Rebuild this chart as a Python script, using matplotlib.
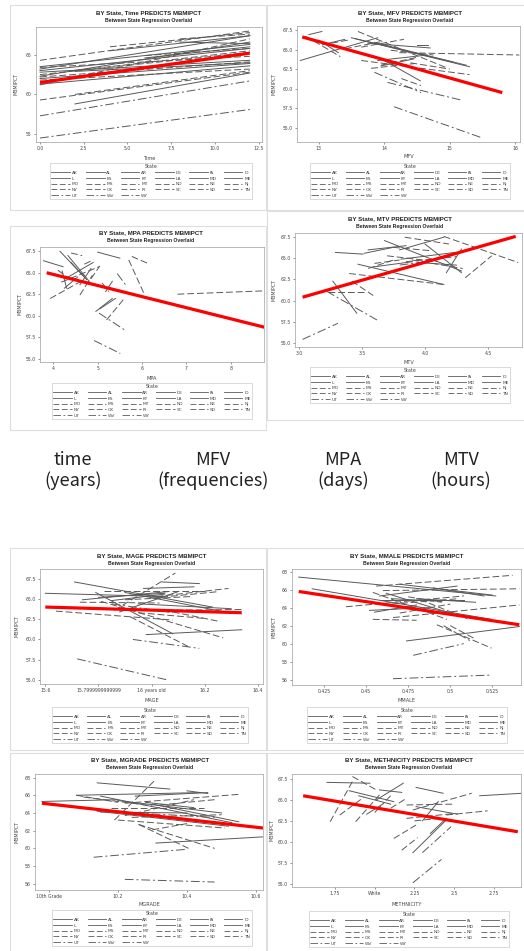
import numpy as np
import matplotlib.pyplot as plt
from matplotlib.lines import Line2D
from matplotlib.patches import Rectangle

W, H = 524, 951

states = ['AK', 'AL', 'AR', 'DE', 'IA', 'ID', 'IL', 'KS', 'KY', 'LA', 'MD', 'ME',
          'MO', 'MS', 'MT', 'ND', 'NE', 'NJ', 'NY', 'OK', 'RI', 'SC', 'SD', 'TN',
          'UT', 'WV', 'WY']
state_style = ['solid'] * 12 + ['dashed'] * 12 + ['dashdot'] * 3

# per state fitted segments: (x start, x end, y start, y end)
seg_time = [(0, 12, 63.2, 67.4), (0, 12, 63.5, 66.3), (0, 12, 62.8, 64.3), (2, 12, 58.8, 62.7),
            (4, 12, 65.5, 67.4), (0, 12, 62.3, 66.6), (0, 12, 61.3, 63.6), (6, 12, 64.6, 66.0),
            (0, 12, 63.0, 65.8), (8, 12, 66.6, 66.4), (2, 12, 62.9, 64.0), (0, 12, 62.0, 63.9),
            (0, 12, 64.3, 68.0), (0, 12, 59.3, 62.8), (4, 12, 66.0, 67.8), (0, 12, 62.5, 65.3),
            (0, 12, 61.2, 67.0), (2, 12, 63.0, 65.5), (0, 12, 63.4, 64.8), (6, 12, 64.9, 65.8),
            (8, 12, 67.0, 67.6), (0, 12, 61.8, 63.2), (2, 12, 60.0, 63.0), (0, 12, 62.2, 64.1),
            (0, 12, 57.3, 61.7), (0, 12, 54.5, 58.1), (4, 12, 62.8, 65.3)]
seg_mfv = [(12.72, 13.90, 63.6, 66.5), (12.85, 13.05, 66.9, 67.3), (13.50, 15.30, 66.5, 62.8),
           (13.55, 15.05, 66.4, 63.4), (14.50, 14.66, 65.6, 65.6), (13.15, 13.40, 65.8, 66.3),
           (13.90, 14.66, 63.6, 64.3), (13.00, 13.30, 66.2, 64.6), (13.75, 14.70, 65.8, 65.2),
           (13.85, 15.25, 65.9, 63.0), (13.95, 14.45, 62.9, 63.8), (14.00, 14.55, 63.6, 61.0),
           (12.80, 13.33, 66.7, 64.1), (13.60, 14.97, 67.3, 62.6), (13.65, 14.30, 65.3, 66.3),
           (14.23, 16.06, 64.6, 64.3), (13.65, 15.30, 63.6, 61.8), (13.80, 14.46, 62.6, 63.2),
           (14.26, 14.56, 61.3, 60.4), (13.40, 13.95, 65.1, 66.0), (14.10, 14.75, 64.9, 64.3),
           (13.95, 14.50, 63.0, 64.0), (14.40, 15.00, 63.3, 62.5), (13.05, 13.45, 65.6, 66.2),
           (13.85, 14.56, 62.1, 59.5), (14.05, 15.20, 60.8, 58.5), (14.15, 15.50, 57.7, 53.7)]
seg_mpa = [(3.78, 4.22, 66.4, 65.7), (4.15, 4.70, 67.5, 64.5), (4.33, 4.81, 67.0, 64.0),
           (5.00, 5.50, 67.4, 66.7), (4.96, 5.33, 60.5, 62.0), (4.20, 4.30, 65.2, 63.2),
           (5.18, 5.33, 62.8, 64.0), (4.40, 4.75, 66.2, 64.2), (4.25, 4.55, 63.2, 64.5),
           (4.30, 4.90, 64.4, 66.2), (5.05, 5.40, 60.8, 62.0), (4.60, 4.85, 63.6, 65.5),
           (5.77, 6.17, 66.9, 66.0), (5.70, 6.06, 66.5, 62.4), (6.80, 8.80, 62.5, 62.9),
           (3.93, 4.66, 62.0, 64.1), (4.18, 5.03, 63.9, 65.7), (4.60, 4.88, 62.4, 64.7),
           (4.40, 4.65, 67.3, 67.0), (4.85, 5.05, 64.3, 65.8), (5.20, 5.60, 59.5, 62.0),
           (4.10, 4.45, 65.3, 64.0), (4.70, 4.90, 66.0, 66.5), (5.10, 5.25, 63.8, 62.8),
           (4.92, 5.51, 57.1, 55.6), (5.03, 5.62, 60.3, 58.3), (5.44, 5.66, 64.9, 63.4)]
seg_mtv = [(3.27, 3.46, 62.3, 58.5), (3.29, 3.51, 65.7, 65.5), (3.52, 3.75, 65.6, 66.3),
           (3.68, 4.29, 67.1, 63.5), (3.80, 4.15, 66.0, 67.5), (4.00, 4.29, 66.7, 63.3),
           (3.47, 4.15, 64.3, 61.9), (4.17, 4.29, 63.3, 66.1), (3.81, 4.24, 64.9, 65.7),
           (3.60, 3.90, 64.0, 64.6), (3.95, 4.25, 64.5, 64.2), (3.55, 3.85, 66.0, 66.5),
           (3.84, 4.19, 67.5, 66.7), (4.15, 4.74, 67.6, 64.5), (4.32, 4.53, 62.7, 65.3),
           (3.23, 3.52, 61.0, 61.0), (3.42, 3.59, 62.3, 60.6), (3.55, 3.75, 63.8, 64.8),
           (3.40, 4.15, 63.2, 61.9), (3.70, 4.10, 65.3, 64.6), (3.90, 4.30, 64.8, 63.8),
           (3.60, 3.80, 64.4, 64.8), (3.75, 4.05, 66.3, 65.9), (3.85, 4.25, 64.6, 65.2),
           (3.03, 3.31, 55.4, 57.3), (3.22, 3.62, 61.1, 57.7), (3.80, 4.00, 64.2, 64.6)]
seg_mage = [(15.60, 16.05, 65.7, 65.3), (15.71, 16.23, 67.1, 64.0), (15.74, 16.06, 64.9, 65.9),
            (16.04, 16.18, 67.1, 66.9), (15.98, 16.34, 60.6, 61.2), (15.97, 16.16, 66.3, 66.5),
            (15.79, 16.08, 65.8, 60.7), (15.85, 16.05, 64.8, 65.6), (15.90, 16.26, 65.8, 63.5),
            (15.88, 16.10, 63.4, 65.9), (15.80, 16.05, 65.2, 65.7), (15.95, 16.30, 64.4, 63.8),
            (15.86, 16.09, 63.6, 68.2), (15.82, 16.20, 66.0, 66.0), (16.02, 16.29, 65.3, 66.3),
            (15.64, 16.08, 63.5, 62.4), (15.73, 16.03, 64.6, 64.5), (15.81, 16.27, 64.7, 60.2),
            (16.08, 16.26, 63.4, 62.2), (16.02, 16.34, 63.6, 63.7), (15.92, 16.14, 62.8, 59.1),
            (15.95, 16.20, 63.3, 62.6), (15.90, 16.15, 64.9, 65.3), (16.00, 16.25, 65.1, 65.9),
            (15.72, 16.06, 57.6, 55.0), (15.93, 16.18, 60.0, 58.9), (15.85, 16.08, 64.4, 63.3)]
seg_mmale = [(0.410, 0.527, 67.4, 65.3), (0.418, 0.5245, 66.1, 62.7), (0.458, 0.504, 65.3, 66.4),
             (0.474, 0.541, 60.3, 61.9), (0.452, 0.487, 63.7, 64.0), (0.458, 0.508, 64.8, 64.8),
             (0.470, 0.525, 66.6, 65.4), (0.465, 0.495, 65.0, 64.7), (0.455, 0.480, 63.5, 64.3),
             (0.490, 0.520, 66.2, 65.3), (0.462, 0.500, 65.6, 63.4), (0.480, 0.515, 65.0, 64.6),
             (0.456, 0.537, 66.4, 67.6), (0.460, 0.541, 65.9, 66.1), (0.438, 0.508, 64.1, 65.3),
             (0.454, 0.480, 62.7, 62.6), (0.466, 0.541, 62.9, 64.3), (0.454, 0.498, 65.7, 62.7),
             (0.492, 0.5245, 62.1, 59.5), (0.470, 0.500, 63.4, 64.4), (0.475, 0.495, 65.2, 64.6),
             (0.482, 0.510, 64.9, 62.8), (0.500, 0.515, 62.0, 60.5), (0.465, 0.505, 64.4, 65.0),
             (0.466, 0.524, 56.1, 56.5), (0.478, 0.508, 58.7, 60.0), (0.496, 0.512, 62.0, 60.3)]
seg_mgrade = [(9.98, 10.20, 65.3, 65.5), (10.14, 10.35, 67.4, 66.7), (10.08, 10.44, 66.0, 66.3),
              (10.14, 10.52, 64.2, 62.5), (10.15, 10.53, 65.9, 62.9), (10.25, 10.46, 65.9, 66.3),
              (10.31, 10.62, 60.6, 61.3), (10.20, 10.50, 65.4, 64.0), (10.30, 10.55, 65.0, 63.0),
              (10.40, 10.46, 66.5, 66.2), (10.15, 10.40, 64.1, 64.0), (10.28, 10.42, 65.2, 64.6),
              (10.19, 10.31, 63.2, 67.8), (10.26, 10.48, 62.7, 60.0), (10.22, 10.42, 63.7, 65.5),
              (10.22, 10.55, 65.1, 66.1), (10.20, 10.51, 63.2, 62.3), (10.18, 10.45, 64.6, 64.6),
              (10.26, 10.41, 62.7, 59.9), (10.08, 10.20, 66.0, 65.2), (10.30, 10.40, 62.1, 62.8),
              (10.24, 10.50, 63.5, 63.8), (10.10, 10.30, 65.8, 64.8), (10.32, 10.48, 64.9, 65.5),
              (10.13, 10.40, 59.0, 59.9), (10.22, 10.48, 56.5, 56.2), (10.25, 10.48, 64.0, 63.5)]
seg_meth = [(1.70, 1.97, 67.1, 67.0), (1.84, 2.12, 66.1, 64.8), (2.03, 2.17, 66.2, 65.9),
            (2.26, 2.43, 66.5, 65.8), (2.26, 2.52, 64.2, 63.3), (2.66, 2.93, 65.5, 65.8),
            (2.24, 2.45, 58.7, 62.6), (2.01, 2.18, 65.0, 67.0), (1.90, 2.10, 65.5, 64.5),
            (2.30, 2.40, 62.5, 64.8), (1.95, 2.05, 63.3, 64.5), (2.35, 2.45, 61.0, 62.8),
            (1.72, 1.86, 62.4, 67.2), (1.88, 2.03, 62.4, 65.6), (1.86, 2.01, 67.8, 66.2),
            (2.20, 2.51, 62.8, 63.4), (2.24, 2.61, 63.8, 65.8), (2.45, 2.71, 63.2, 63.7),
            (2.12, 2.26, 60.4, 62.0), (2.20, 2.50, 64.4, 64.5), (1.78, 1.93, 63.2, 65.3),
            (2.10, 2.20, 64.0, 65.2), (2.25, 2.40, 62.5, 62.8), (2.17, 2.27, 59.0, 60.5),
            (2.24, 2.42, 55.1, 57.9), (2.30, 2.48, 58.7, 61.8), (2.00, 2.10, 63.5, 65.5)]

# overall (between state) regression lines
red_time = ([0, 12], [61.5, 65.2])
red_mfv = ([12.75, 15.8], [66.6, 59.5])
red_mpa = ([3.85, 8.8], [65.0, 58.6])
red_mtv = ([3.03, 4.72], [60.4, 67.6])
red_mage = ([15.6, 16.34], [64.0, 63.3])
red_mmale = ([0.41, 0.541], [65.8, 62.1])
red_mgrade = ([9.98, 10.62], [65.1, 62.3])
red_meth = ([1.55, 2.9], [65.5, 61.2])

ticks_time = [0, 2.5, 5, 7.5, 10, 12.5]
labels_time = ['0.0', '2.5', '5.0', '7.5', '10.0', '12.5']
ticks_mfv = [13, 14, 15, 16]
labels_mfv = ['13', '14', '15', '16']
ticks_mpa = [4, 5, 6, 7, 8]
labels_mpa = ['4', '5', '6', '7', '8']
ticks_mtv = [3.0, 3.5, 4.0, 4.5]
labels_mtv = ['3.0', '3.5', '4.0', '4.5']
ticks_mage = [15.6, 15.8, 16.0, 16.2, 16.4]
labels_mage = ['15.6', '15.7999999999999', '16 years old', '16.2', '16.4']
ticks_mmale = [0.425, 0.45, 0.475, 0.5, 0.525]
labels_mmale = ['0.425', '0.45', '0.475', '0.5', '0.525']
ticks_mgrade = [10.0, 10.2, 10.4, 10.6]
labels_mgrade = ['10th Grade', '10.2', '10.4', '10.6']
ticks_meth = [1.75, 2.0, 2.25, 2.5, 2.75]
labels_meth = ['1.75', 'White', '2.25', '2.5', '2.75']
yt_half = [55.0, 57.5, 60.0, 62.5, 65.0, 67.5]
yt_even = [56, 58, 60, 62, 64, 66, 68]

units_names = ['time', 'MFV', 'MPA', 'MTV']
units_desc = ['(years)', '(frequencies)', '(days)', '(hours)']

GRAY = '#595959'
LS = {'solid': '-', 'dashed': (0, (7, 3)), 'dashdot': (0, (9, 3, 2, 3))}

fig = plt.figure(figsize=(W / 100, H / 100), dpi=100)
fig.patch.set_facecolor('white')


def fig_rect(x0, y0, x1, y1):
    return [x0 / W, 1 - y1 / H, (x1 - x0) / W, (y1 - y0) / H]


# light panel frames of the screenshots
for (x0, y0, x1, y1) in [(10, 5, 266, 210), (267, 5, 526, 210), (10, 226, 266, 430),
                         (267, 211, 526, 420), (10, 548, 266, 750), (267, 548, 526, 750),
                         (10, 753, 266, 960), (267, 753, 526, 960)]:
    fig.add_artist(Rectangle((x0 / W, 1 - y1 / H), (x1 - x0) / W, (y1 - y0) / H,
                             transform=fig.transFigure, fill=False,
                             edgecolor='#dedede', lw=0.8))


def panel(var, segs, red, box, xlim, ylim, xt, xtl, yt, tcx, ty, ylx, xly, leg):
    ax = fig.add_axes(fig_rect(*box))
    for s, st, (x0, x1, y0, y1) in zip(states, state_style, segs):
        ax.plot([x0, x1], [y0, y1], color=GRAY, lw=0.7, ls=LS[st])
    ax.plot(red[0], red[1], color='#ff0000', lw=2.3, zorder=5, solid_capstyle='butt')
    ax.set_xlim(xlim)
    ax.set_ylim(ylim)
    ax.set_xticks(xt)
    ax.set_xticklabels(xtl)
    ax.set_yticks(yt)
    ax.set_yticklabels([('%.1f' % v) if isinstance(v, float) else str(v) for v in yt])
    ax.tick_params(labelsize=3.3, length=1.5, width=0.4, pad=1.5,
                   colors='#444444')
    for sp in ax.spines.values():
        sp.set_color('#a0a0a0')
        sp.set_linewidth(0.5)
    fig.text(tcx / W, 1 - ty / H, 'BY State, %s PREDICTS MBMIPCT' % var,
             ha='center', va='center', fontsize=4.4, fontweight='bold',
             family='Liberation Sans', color='#222222')
    fig.text(tcx / W, 1 - (ty + 7.5) / H, 'Between State Regression Overlaid',
             ha='center', va='center', fontsize=3.7, fontweight='bold',
             family='Liberation Sans', color='#222222')
    fig.text(ylx / W, 1 - (box[1] + box[3]) / 2 / H, 'MBMIPCT', rotation=90,
             ha='center', va='center', fontsize=3.4, color='#444444')
    fig.text((box[0] + box[2]) / 2 / W, 1 - xly / H, var, ha='center', va='center',
             fontsize=3.6, color='#444444')

    handles = [Line2D([], [], color=GRAY, lw=0.6, ls=LS[st]) for st in state_style]
    order = []
    for c in range(6):
        order += [c + 6 * r for r in range(5) if c + 6 * r < len(states)]
    x0, ytop, x1 = leg
    lg = fig.legend([handles[i] for i in order], [states[i] for i in order],
                    loc='upper left', ncol=6, mode='expand',
                    bbox_to_anchor=(x0 / W, 1 - ytop / H, (x1 - x0) / W, 0),
                    bbox_transform=fig.transFigure, borderaxespad=0,
                    fontsize=3.2, title='State', title_fontsize=3.4,
                    handlelength=4.2, handletextpad=0.4, labelspacing=0.35,
                    columnspacing=0.6, borderpad=0.3, fancybox=False, frameon=True)
    lg.get_frame().set_edgecolor('#c8c8c8')
    lg.get_frame().set_linewidth(0.6)
    for t in lg.get_texts():
        t.set_color('#444444')
    lg.get_title().set_color('#444444')
    return ax


panel('Time', seg_time, red_time, (36, 27, 262, 142), (-0.23, 12.7), (54.0, 68.5),
      ticks_time, labels_time, [55, 60, 65], 149, 13, 16, 158, (50, 163, 252))
panel('MFV', seg_mfv, red_mfv, (297, 26, 520, 142), (12.67, 16.07), (53.2, 68.0),
      ticks_mfv, labels_mfv, yt_half, 410, 13, 274, 157, (310, 163, 510))
panel('MPA', seg_mpa, red_mpa, (40, 247, 264, 362), (3.7, 8.75), (54.6, 68.0),
      ticks_mpa, labels_mpa, yt_half, 151, 233, 20, 379, (52, 383, 252))
panel('MTV', seg_mtv, red_mtv, (295, 233, 522, 347), (2.97, 4.77), (54.5, 68.0),
      ticks_mtv, labels_mtv, yt_half, 400, 219, 274, 362, (310, 367, 510))
panel('MAGE', seg_mage, red_mage, (40, 569, 263, 684), (15.58, 16.42), (54.5, 68.7),
      ticks_mage, labels_mage, yt_half, 152, 556, 17, 701, (52, 707, 248))
panel('MMALE', seg_mmale, red_mmale, (292, 569, 521, 685), (0.406, 0.542), (55.4, 68.3),
      ticks_mmale, labels_mmale, yt_even, 407, 556, 274, 701, (307, 707, 507))
panel('MGRADE', seg_mgrade, red_mgrade, (35, 774, 263, 890), (9.96, 10.62), (55.3, 68.4),
      ticks_mgrade, labels_mgrade, yt_even, 150, 760, 17, 905, (52, 910, 252))
panel('METHNICITY', seg_meth, red_meth, (292, 774, 521, 887), (1.48, 2.92), (54.6, 68.1),
      ticks_meth, labels_meth, yt_half, 409, 760, 272, 905, (309, 911, 509))

# unit notes between the two blocks
for cx, name, desc in zip([73, 213, 343, 461], units_names, units_desc):
    fig.text(cx / W, 1 - 460 / H, name, ha='center', va='center', fontsize=13,
             family=['Noto Sans CJK KR', 'DejaVu Sans'], color='#222222')
    fig.text(cx / W, 1 - 481 / H, desc, ha='center', va='center', fontsize=13,
             family=['Noto Sans CJK KR', 'DejaVu Sans'], color='#222222')

fig.savefig('out.png', dpi=100, facecolor='white')
